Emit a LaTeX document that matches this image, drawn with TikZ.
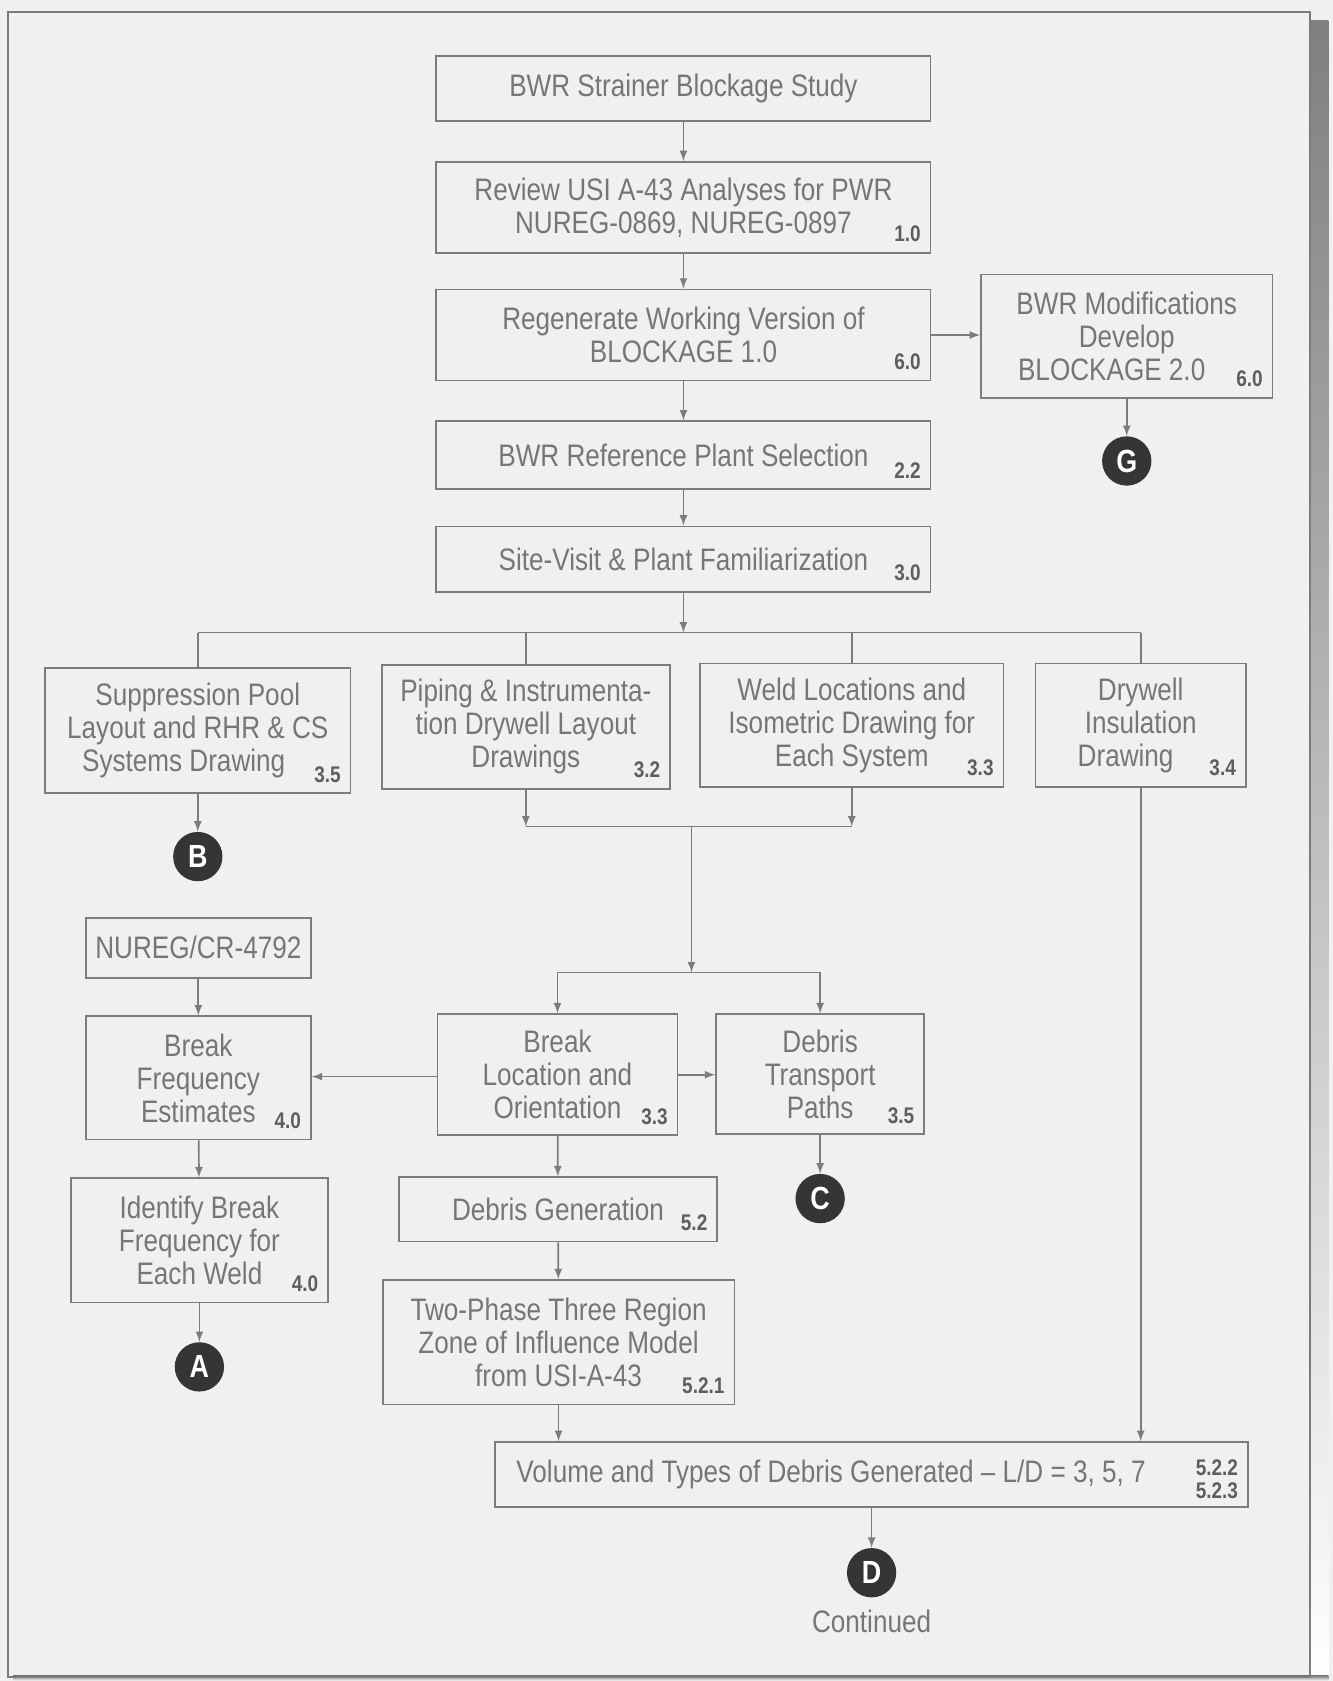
\documentclass[tikz,border=0pt]{standalone}
\usepackage{fontspec}
\setmainfont{Liberation Sans}[FakeStretch=0.84]
\usetikzlibrary{positioning}

\definecolor{paper}{HTML}{F0F0EE}
\definecolor{inkgray}{HTML}{767676}
\definecolor{linegray}{HTML}{7C7C7C}
\definecolor{numgray}{HTML}{5E5E5E}
\definecolor{dotgray}{HTML}{353535}
\definecolor{shade}{HTML}{4E4E4E}

\begin{document}
\begin{tikzpicture}[x=0.2mm,y=-0.2mm,
  box/.style={draw=linegray, line width=0.9pt, text=inkgray, align=center,
    inner sep=0pt, font=\fontsize{16.5}{17.5}\selectfont},
  sz/.style 2 args={minimum width=#1*0.2mm, minimum height=#2*0.2mm},
  num/.style={anchor=south east, inner sep=0pt, xshift=-5.5pt, yshift=6pt,
    text=numgray, align=right, font=\fontsize{12}{12}\selectfont\bfseries},
  dot/.style={circle, fill=dotgray, text=white, inner sep=0pt,
    minimum size=9.2mm, font=\fontsize{17}{17}\selectfont\bfseries},
  arr/.style={draw=linegray, line width=0.9pt, -latex},
  wire/.style={draw=linegray, line width=0.9pt}]

% Feuille
\fill[paper]
(0,0)
rectangle
(1243,1568);
\useasboundingbox
(0,0)
rectangle
(1243,1568);
\fill[shade]
(1222,19)
rectangle
(1239,1568);
\fill[shade]
(12,1563)
rectangle
(1239,1568);
\draw[linegray, line width=1pt]
(7.5,11)
rectangle
(1222,1564);

% Colonne principale
\node[box, sz={461}{61}] (strainer) at (637.5,82.5)
{BWR Strainer Blockage Study};

\node[box, sz={461}{85}] (review) at (637.5,193.5)
{Review USI A-43 Analyses for PWR\\NUREG-0869, NUREG-0897};
\node[num] at (review.south east) {1.0};

\node[box, sz={461}{85}] (regen) at (637.5,312.5)
{Regenerate Working Version of\\BLOCKAGE 1.0};
\node[num] at (regen.south east) {6.0};

\node[box, sz={461}{63}] (refplant) at (637.5,424.5)
{BWR Reference Plant Selection};
\node[num] at (refplant.south east) {2.2};

\node[box, sz={461}{61}] (site) at (637.5,521.5)
{Site-Visit \& Plant Familiarization};
\node[num] at (site.south east) {3.0};

% BLOCKAGE 2.0
\node[box, sz={272}{115}] (mods) at (1051,313.5)
{BWR Modifications\\Develop\\BLOCKAGE 2.0\hspace*{16pt}};
\node[num] at (mods.south east) {6.0};
\node[dot] (G) at (1051,430) {G};

% Plans
\node[box, sz={285}{117}] (pool) at (184.5,681.5)
{Suppression Pool\\Layout and RHR \& CS\\Systems Drawing\hspace*{15pt}};
\node[num] at (pool.south east) {3.5};

\node[box, sz={269}{116}] (piping) at (490.5,678)
{Piping \& Instrumenta-\\tion Drywell Layout\\Drawings};
\node[num] at (piping.south east) {3.2};

\node[box, sz={283}{115}] (weld) at (794.5,676.5)
{Weld Locations and\\Isometric Drawing for\\Each System};
\node[num] at (weld.south east) {3.3};

\node[box, sz={196}{115}] (drywell) at (1064,676.5)
{Drywell\\Insulation\\Drawing\hspace*{16pt}};
\node[num] at (drywell.south east) {3.4};

\node[dot] (B) at (184.5,799) {B};

% Ruptures
\node[box, sz={210}{56}] (nureg) at (185,884)
{NUREG/CR-4792};

\node[box, sz={210}{115}] (freq) at (185,1005.5)
{Break\\Frequency\\Estimates};
\node[num] at (freq.south east) {4.0};

\node[box, sz={240}{116}] (weldfreq) at (186,1157)
{Identify Break\\Frequency for\\Each Weld};
\node[num] at (weldfreq.south east) {4.0};

\node[dot] (A) at (186,1275) {A};

\node[box, sz={224}{113}] (location) at (520,1002.5)
{Break\\Location and\\Orientation};
\node[num] at (location.south east) {3.3};

\node[box, sz={194}{112}] (transport) at (765,1002)
{Debris\\Transport\\Paths};
\node[num] at (transport.south east) {3.5};

\node[dot] (C) at (765,1118) {C};

% Debris
\node[box, sz={297}{60}] (generation) at (520.5,1128)
{Debris Generation};
\node[num] at (generation.south east) {5.2};

\node[box, sz={328}{116}] (zoi) at (521,1252)
{Two-Phase Three Region\\Zone of Influence Model\\from USI-A-43};
\node[num] at (zoi.south east) {5.2.1};

\node[box, sz={702}{61}] (volume) at (813,1375.5)
{Volume and Types of Debris Generated -- L/D = 3, 5, 7\hspace*{43pt}};
\node[num, yshift=-1pt] at (volume.south east) {5.2.2\\5.2.3};

\node[dot] (D) at (813,1467) {D};
\node[text=inkgray, font=\fontsize{16.5}{17.5}\selectfont] (cont) at (813,1512)
{Continued};

% Liaisons
\coordinate (split) at (637.5,590);
\coordinate (merge) at (645,771);
\coordinate (split2) at (645,907);

\draw[arr] (strainer) -- (review);
\draw[arr] (review) -- (regen);
\draw[arr] (regen) -- (refplant);
\draw[arr] (refplant) -- (site);
\draw[arr] (regen.east) -- (regen.east -| mods.west);
\draw[arr] (mods) -- (G);

\draw[arr] (site) -- (split);
\draw[wire] (split -| pool.north) -- (split -| drywell.north);
\draw[wire] (split -| pool.north) -- (pool.north);
\draw[wire] (split -| piping.north) -- (piping.north);
\draw[wire] (split -| weld.north) -- (weld.north);
\draw[wire] (split -| drywell.north) -- (drywell.north);
\draw[arr] (pool) -- (B);

\draw[arr] (piping.south) -- (merge -| piping.south);
\draw[arr] (weld.south) -- (merge -| weld.south);
\draw[wire] (merge -| piping.south) -- (merge -| weld.south);
\draw[arr] (merge) -- (split2);
\draw[wire] (split2 -| location.north) -- (split2 -| transport.north);
\draw[arr] (split2 -| location.north) -- (location.north);
\draw[arr] (split2 -| transport.north) -- (transport.north);

\draw[arr] (nureg) -- (freq);
\draw[arr] (freq) -- (weldfreq);
\draw[arr] (weldfreq) -- (A);
\draw[arr] ([yshift=-1pt]location.west) -- ([yshift=-1pt]location.west -| freq.east);
\draw[arr] (location.east) -- (location.east -| transport.west);
\draw[arr] (transport) -- (C);
\draw[arr] (location) -- (generation);
\draw[arr] (generation) -- (zoi);
\draw[arr] (zoi.south) -- (zoi.south |- volume.north);
\draw[arr] (drywell.south) -- (drywell.south |- volume.north);
\draw[arr] (volume) -- (D);

\end{tikzpicture}
\end{document}
